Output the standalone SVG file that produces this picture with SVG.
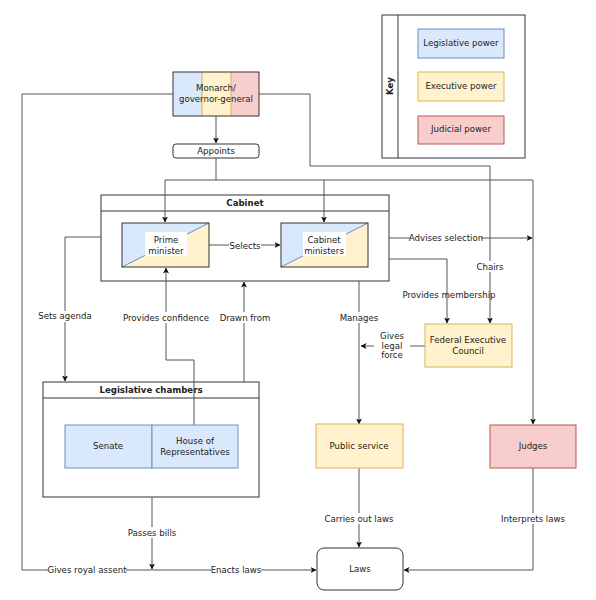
<svg xmlns="http://www.w3.org/2000/svg" width="596" height="600" viewBox="0 0 596 600">
<style>
text{font-family:"DejaVu Sans","Liberation Sans",sans-serif;font-size:8.6px;fill:#222;text-anchor:middle}
.b{font-weight:bold}
.ln{fill:none;stroke:#555;stroke-width:1}
.box{fill:#fff;stroke:#333;stroke-width:1}
.leg{fill:#dae8fc;stroke:#6c8ebf;stroke-width:1}
.exe{fill:#fff2cc;stroke:#d6b656;stroke-width:1}
.jud{fill:#f8cecc;stroke:#b85450;stroke-width:1}
.lbl{fill:#fff}
</style>
<defs>
<marker id="a" markerWidth="6" markerHeight="6" refX="5.5" refY="3" orient="auto" markerUnits="userSpaceOnUse">
<path d="M0,0 L6,3 L0,6 L1.5,3 Z" fill="#111"/>
</marker>
</defs>
<rect width="596" height="600" fill="#fff"/>

<g id="key">
<rect class="box" x="382" y="15" width="143" height="143"/>
<line x1="398" y1="15" x2="398" y2="158" stroke="#333"/>
<text class="b" x="0" y="0" transform="translate(393,86) rotate(-90)">Key</text>
<g id="key-legislative"><rect class="leg" x="418" y="29" width="86" height="29"/><text x="461" y="46">Legislative power</text></g>
<g id="key-executive"><rect class="exe" x="418" y="72" width="86" height="29"/><text x="461" y="89">Executive power</text></g>
<g id="key-judicial"><rect class="jud" x="418" y="116" width="86" height="28"/><text x="461" y="132">Judicial power</text></g>
</g>

<g id="monarch">
<rect x="173" y="72" width="29" height="44" fill="#dae8fc"/>
<rect x="202" y="72" width="29" height="44" fill="#fff2cc"/>
<rect x="231" y="72" width="28" height="44" fill="#f8cecc"/>
<line x1="202" y1="72" x2="202" y2="116" stroke="#d6b656"/>
<line x1="231" y1="72" x2="231" y2="116" stroke="#d6b656"/>
<rect x="173" y="72" width="86" height="44" fill="none" stroke="#333"/>
<text x="216" y="91">Monarch/</text>
<text x="216" y="102">governor-general</text>
</g>

<g id="appoints">
<rect class="box" x="173" y="144" width="86" height="14" rx="3"/>
<text x="216" y="154">Appoints</text>
</g>

<g id="cabinet">
<rect class="box" x="101" y="195" width="288" height="86"/>
<line x1="101" y1="211" x2="389" y2="211" stroke="#333"/>
<text class="b" x="245" y="206">Cabinet</text>
</g>

<g id="legislative-chambers">
<rect class="box" x="43" y="382" width="216" height="115"/>
<line x1="43" y1="398" x2="259" y2="398" stroke="#333"/>
<text class="b" x="151" y="393">Legislative chambers</text>
</g>

<g id="connectors">
<path class="ln" d="M216,116 V143" marker-end="url(#a)"/>
<path class="ln" d="M216,158 V180 M165,180 H533"/>
<path class="ln" d="M165,180 V222" marker-end="url(#a)"/>
<path class="ln" d="M324,180 V222" marker-end="url(#a)"/>
<path class="ln" d="M533,180 V424" marker-end="url(#a)"/>
<path class="ln" d="M259,94 H310 V166 H490 V323" marker-end="url(#a)"/>
<path class="ln" d="M173,94 H22 V570 H316" marker-end="url(#a)"/>
<path class="ln" d="M209,245 H280" marker-end="url(#a)"/>
<path class="ln" d="M101,237 H65 V381" marker-end="url(#a)"/>
<path class="ln" d="M389,238 H532" marker-end="url(#a)"/>
<path class="ln" d="M389,259 H447 V323" marker-end="url(#a)"/>
<path class="ln" d="M425,346 H361" marker-end="url(#a)"/>
<path class="ln" d="M359,281 V424" marker-end="url(#a)"/>
<path class="ln" d="M194,425 V360 H166 V268" marker-end="url(#a)"/>
<path class="ln" d="M244,382 V282" marker-end="url(#a)"/>
<path class="ln" d="M152,497 V569" marker-end="url(#a)"/>
<path class="ln" d="M359,468 V547" marker-end="url(#a)"/>
<path class="ln" d="M533,468 V570 H404" marker-end="url(#a)"/>
<g id="labels">
<rect class="lbl" x="229" y="240" width="32" height="11"/><text x="245" y="249">Selects</text>
<rect class="lbl" x="411" y="233" width="70" height="11"/><text x="446" y="241">Advises selection</text>
<rect class="lbl" x="476" y="261" width="28" height="11"/><text x="490" y="270">Chairs</text>
<text x="449" y="298">Provides membership</text>
<rect class="lbl" x="340" y="312" width="38" height="11"/><text x="359" y="321">Manages</text>
<rect class="lbl" x="374" y="330" width="36" height="31"/>
<text x="392" y="339">Gives</text><text x="392" y="349">legal</text><text x="392" y="358">force</text>
<rect class="lbl" x="39" y="311" width="52" height="11"/><text x="65" y="319">Sets agenda</text>
<rect class="lbl" x="126" y="312" width="81" height="11"/><text x="166" y="321">Provides confidence</text>
<rect class="lbl" x="221" y="312" width="47" height="11"/><text x="245" y="321">Drawn from</text>
<rect class="lbl" x="128" y="527" width="48" height="11"/><text x="152" y="536">Passes bills</text>
<rect class="lbl" x="327" y="513" width="65" height="11"/><text x="359" y="522">Carries out laws</text>
<rect class="lbl" x="501" y="513" width="64" height="11"/><text x="533" y="522">Interprets laws</text>
<rect class="lbl" x="48" y="565" width="78" height="11"/><text x="87" y="573">Gives royal assent</text>
<rect class="lbl" x="211" y="565" width="50" height="11"/><text x="236" y="573">Enacts laws</text>
</g>
</g>

<g id="prime-minister">
<polygon points="122,223 209,223 122,267" fill="#dae8fc"/>
<polygon points="209,223 209,267 122,267" fill="#fff2cc"/>
<line x1="122" y1="267" x2="209" y2="223" stroke="#6c8ebf"/>
<rect x="122" y="223" width="87" height="44" fill="none" stroke="#333"/>
<rect x="145" y="232" width="42" height="24" fill="#fff"/>
<text x="166" y="243">Prime</text>
<text x="166" y="254">minister</text>
</g>

<g id="cabinet-ministers">
<polygon points="281,223 368,223 281,267" fill="#dae8fc"/>
<polygon points="368,223 368,267 281,267" fill="#fff2cc"/>
<line x1="281" y1="267" x2="368" y2="223" stroke="#6c8ebf"/>
<rect x="281" y="223" width="87" height="44" fill="none" stroke="#333"/>
<rect x="303" y="232" width="43" height="24" fill="#fff"/>
<text x="324" y="243">Cabinet</text>
<text x="324" y="254">ministers</text>
</g>

<g id="federal-executive-council">
<rect class="exe" x="425" y="324" width="87" height="43"/>
<text x="468" y="343">Federal Executive</text>
<text x="468" y="354">Council</text>
</g>

<g id="senate">
<rect class="leg" x="65" y="425" width="87" height="43"/>
<text x="108" y="449">Senate</text>
</g>

<g id="house">
<rect class="leg" x="152" y="425" width="86" height="43"/>
<text x="195" y="444">House of</text>
<text x="195" y="455">Representatives</text>
</g>

<g id="public-service">
<rect class="exe" x="316" y="424" width="87" height="44"/>
<text x="359" y="449">Public service</text>
</g>

<g id="judges">
<rect class="jud" x="490" y="425" width="86" height="43"/>
<text x="533" y="449">Judges</text>
</g>

<g id="laws">
<rect class="box" x="317" y="548" width="86" height="42" rx="7"/>
<text x="360" y="572">Laws</text>
</g>
</svg>
